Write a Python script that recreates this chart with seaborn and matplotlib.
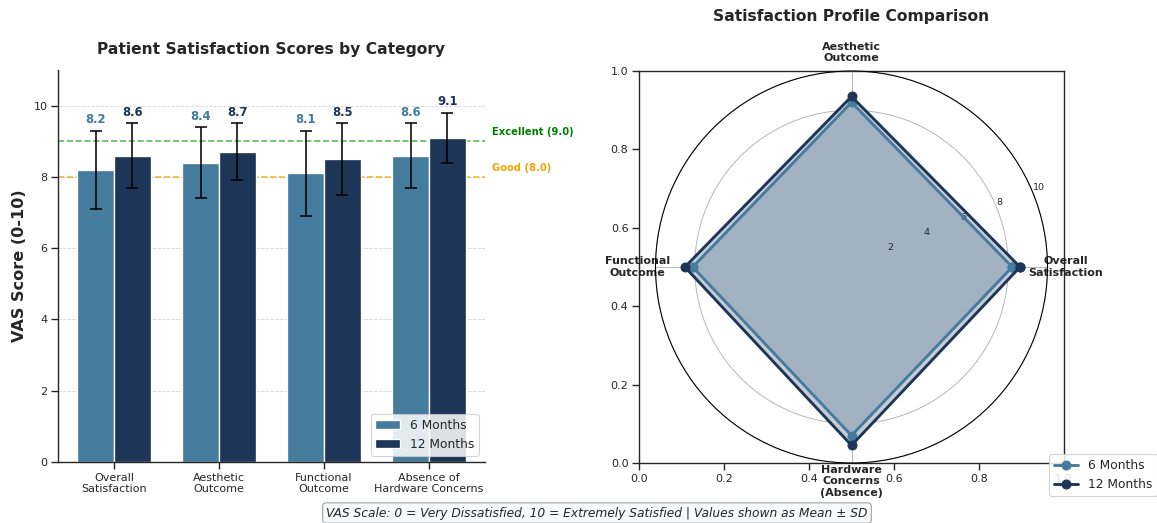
import matplotlib
matplotlib.use("Agg")
import matplotlib.pyplot as plt
import numpy as np
import pandas as pd
import seaborn as sns

# ---- data -------------------------------------------------------------
categories = ["Overall\nSatisfaction", "Aesthetic\nOutcome",
              "Functional\nOutcome", "Absence of\nHardware Concerns"]
radar_labels = ["Overall\nSatisfaction", "Aesthetic\nOutcome",
                "Functional\nOutcome", "Hardware\nConcerns\n(Absence)"]
periods = ["6 Months", "12 Months"]
mean_6m = [8.2, 8.4, 8.1, 8.6]
sd_6m = [1.1, 1.0, 1.2, 0.9]
mean_12m = [8.6, 8.7, 8.5, 9.1]
sd_12m = [0.9, 0.8, 1.0, 0.7]
threshold_values = [9.0, 8.0]
threshold_labels = ["Excellent (9.0)", "Good (8.0)"]
threshold_colors = ["#2ca02c", "#f0a500"]
threshold_text_colors = ["green", "#f0a500"]
y_ticks = [0, 2, 4, 6, 8, 10]
radial_ticks = [2, 4, 6, 8, 10]

palette = {"6 Months": "#457b9d", "12 Months": "#1d3557"}

sns.set_theme(style="ticks")
plt.rcParams["font.family"] = ["DejaVu Sans"]

W, H, DPI = 1157, 523, 80
fig = plt.figure(figsize=(W / DPI, H / DPI), dpi=DPI)


def px_box(x0, y0, x1, y1):
    """Pixel rectangle (origin top-left) -> figure-fraction rect."""
    return [x0 / W, 1 - y1 / H, (x1 - x0) / W, (y1 - y0) / H]


# ---- grouped bar chart ---------------------------------------------------
ax = fig.add_axes(px_box(58, 70, 485, 462))
df = pd.DataFrame({
    "Category": categories * 2,
    "Period": [periods[0]] * len(categories) + [periods[1]] * len(categories),
    "Score": mean_6m + mean_12m,
    "SD": sd_6m + sd_12m,
})
sns.barplot(data=df, x="Category", y="Score", hue="Period", hue_order=periods,
            palette=palette, width=0.7, saturation=1, errorbar=None,
            edgecolor="white", linewidth=1.2, ax=ax, zorder=2)

for cont, period in zip(ax.containers, periods):
    sub = df[df["Period"] == period]
    xs = [p.get_x() + p.get_width() / 2 for p in cont]
    ax.errorbar(xs, sub["Score"], yerr=sub["SD"], fmt="none", ecolor="black",
                elinewidth=1.4, capsize=5, capthick=1.4, zorder=3)
    for x, m, s in zip(xs, sub["Score"], sub["SD"]):
        ax.text(x, m + s + 0.12, f"{m:.1f}", ha="center", va="bottom",
                fontsize=10.5, fontweight="bold", color=palette[period])

for val, lab, lc, tc in zip(threshold_values, threshold_labels,
                            threshold_colors, threshold_text_colors):
    ax.axhline(val, color=lc, linestyle="--", linewidth=1.5, alpha=0.75, zorder=1)
    ax.text(3.6, val + 0.12, lab, color=tc, fontsize=9, fontweight="bold",
            ha="left", va="bottom", clip_on=False)

ax.set_ylim(0, 11)
ax.set_yticks(y_ticks)
ax.set_xlabel("")
ax.set_ylabel("VAS Score (0-10)", fontsize=14.5, fontweight="bold", labelpad=6)
ax.set_title("Patient Satisfaction Scores by Category", fontsize=14,
             fontweight="bold", pad=14)
ax.tick_params(axis="x", labelsize=10)
ax.tick_params(axis="y", labelsize=10)
ax.set_axisbelow(True)
ax.yaxis.grid(True, linestyle="--", color="#bbbbbb", alpha=0.6, linewidth=0.8)
sns.despine(ax=ax)
handles, labels = ax.get_legend_handles_labels()
ax.legend(handles, labels, loc="lower right", fontsize=11, title=None,
          frameon=True, framealpha=0.85)

# ---- radar chart -----------------------------------------------------------
rect = px_box(639, 71, 1064, 463)
ax_base = fig.add_axes(rect)
ax_base.tick_params(labelsize=10)

axp = fig.add_axes(rect, polar=True)
axp.patch.set_alpha(0)
n = len(radar_labels)
angles = np.linspace(0, 2 * np.pi, n, endpoint=False).tolist()
loop = angles + angles[:1]

# white underlay so the grid rings do not show through the shaded profiles
outer = [max(a, b) for a, b in zip(mean_6m, mean_12m)]
axp.fill(loop, outer + outer[:1], color="white", alpha=1, zorder=1.8)
for period, values in zip(periods, [mean_6m, mean_12m]):
    vals = list(values) + list(values[:1])
    axp.plot(loop, vals, "o-", color=palette[period], linewidth=2.6,
             markersize=8, label=period, zorder=3)
    axp.fill(loop, vals, color=palette[period], alpha=0.25, zorder=2)

axp.set_xticks(angles)
axp.set_xticklabels(radar_labels, fontsize=10, fontweight="bold")
axp.set_ylim(0, 10)
axp.set_yticks(radial_ticks)
axp.set_yticklabels([])
# radial value labels, drawn above the shading but under the profile lines
rlabel_angle = np.deg2rad(22.5)
for t in radial_ticks:
    axp.text(rlabel_angle, t, str(t), fontsize=8.5, ha="left", va="bottom",
             color="#262626", zorder=2.5)
axp.grid(True, color="#b0b0b0", linewidth=0.8)
axp.spines["polar"].set_color("black")
axp.spines["polar"].set_linewidth(1)
axp.set_title("Satisfaction Profile Comparison", fontsize=14,
              fontweight="bold", y=1.0, pad=45)
axp.legend(loc="upper left", bbox_to_anchor=(1049 / W, 1 - 454 / H),
           bbox_transform=fig.transFigure, fontsize=11, frameon=True,
           framealpha=0.85, borderaxespad=0)

# ---- footnote ----------------------------------------------------------------
fig.text(597 / W, 1 - 513 / H,
         "VAS Scale: 0 = Very Dissatisfied, 10 = Extremely Satisfied | "
         "Values shown as Mean \u00b1 SD",
         ha="center", va="center", fontsize=11, style="italic",
         bbox=dict(boxstyle="round,pad=0.3", facecolor="#f8f9fa",
                   edgecolor="#999999", alpha=0.9))

fig.savefig("out.png", dpi=DPI)
